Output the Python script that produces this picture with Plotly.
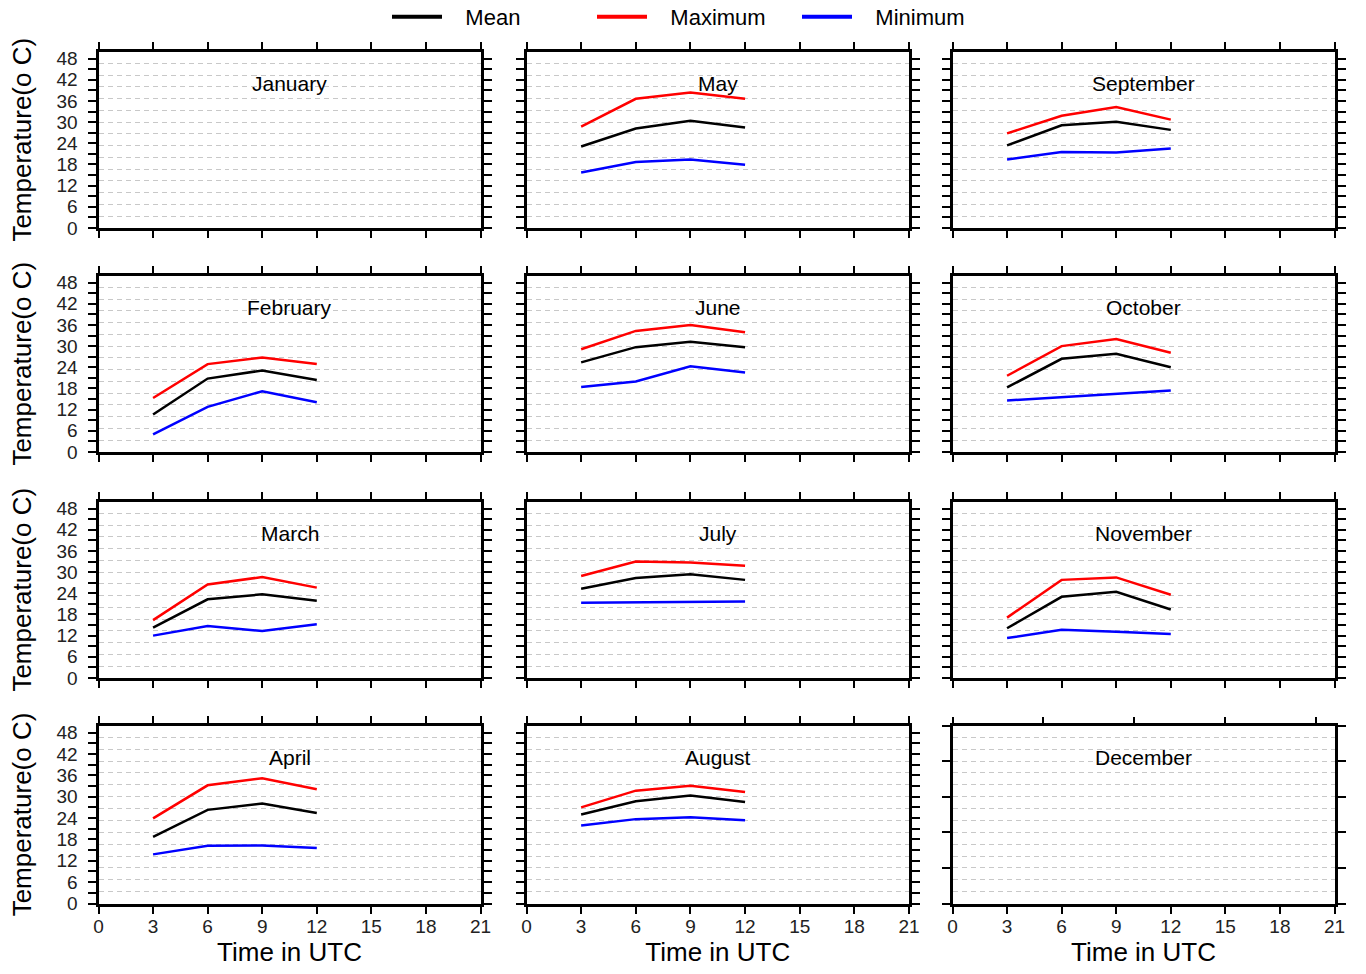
import plotly.graph_objects as go

# ---------------- data ----------------
months = ["January", "February", "March", "April",
          "May", "June", "July", "August",
          "September", "October", "November", "December"]
hours = [3, 6, 9, 12]

mean_temp = [
    None,
    [10.6, 20.8, 23.1, 20.4],
    [14.3, 22.3, 23.7, 21.9],
    [18.7, 26.3, 28.1, 25.4],
    [23.1, 28.2, 30.4, 28.5],
    [25.4, 29.7, 31.2, 29.7],
    [25.3, 28.3, 29.4, 27.8],
    [25.0, 28.7, 30.3, 28.5],
    [23.4, 29.1, 30.1, 27.8],
    [18.3, 26.4, 27.8, 24.0],
    [14.1, 23.0, 24.4, 19.4],
    None,
]
max_temp = [
    None,
    [15.3, 24.9, 26.8, 24.9],
    [16.4, 26.5, 28.6, 25.6],
    [23.9, 33.2, 35.2, 32.1],
    [28.7, 36.6, 38.4, 36.6],
    [29.1, 34.3, 36.0, 33.9],
    [28.9, 33.0, 32.7, 31.8],
    [27.0, 31.7, 33.1, 31.3],
    [26.8, 31.8, 34.3, 30.7],
    [21.6, 30.0, 32.0, 28.1],
    [17.1, 27.8, 28.5, 23.6],
    None,
]
min_temp = [
    None,
    [5.0, 12.8, 17.2, 14.1],
    [12.0, 14.7, 13.3, 15.2],
    [13.8, 16.2, 16.3, 15.6],
    [15.7, 18.7, 19.4, 17.9],
    [18.4, 20.0, 24.3, 22.5],
    [21.3, 21.5, 21.7, 21.7],
    [21.9, 23.7, 24.2, 23.4],
    [19.4, 21.5, 21.4, 22.5],
    [14.6, 15.5, 16.4, 17.4],
    [11.3, 13.7, 13.1, 12.5],
    None,
]

series_names = ["Mean", "Maximum", "Minimum"]
series_colors = ["black", "red", "blue"]
series_data = [mean_temp, max_temp, min_temp]

y_tick_vals = list(range(0, 49, 3))
y_tick_text = [str(v) if v % 6 == 0 else "" for v in y_tick_vals]
x_tick_vals = list(range(0, 22, 3))
x_tick_text = [str(v) for v in x_tick_vals]
grid_vals = [k * 10 / 3 for k in range(1, 15)]
dec_y_ticks = list(range(0, 51, 10))
dec_top_ticks = list(range(0, 21, 5))

# ---------------- layout geometry ----------------
W, H = 1366, 974
col_px = [(98.5, 480.5), (526.5, 909), (952.5, 1334.5)]
row_px = [(51.5, 228), (275.5, 452), (501.5, 678), (725.5, 903.5)]

FONT = "Liberation Sans, Arial, sans-serif"
NBSP = "\u00a0"

fig = go.Figure()
layout = dict(
    width=W, height=H,
    margin=dict(l=0, r=0, t=0, b=0, autoexpand=False),
    paper_bgcolor="white", plot_bgcolor="white",
    font=dict(family=FONT, color="black"),
    showlegend=True,
    legend=dict(orientation="h", xref="paper", yref="paper",
                x=387 / W, xanchor="left", y=1.0 + 4 / H, yanchor="top",
                font=dict(size=22, family=FONT, color="black"),
                itemwidth=50, entrywidth=140, entrywidthmode="pixels",
                bgcolor="rgba(0,0,0,0)"),
    annotations=[],
)

for i, month in enumerate(months):
    col, row = i // 4, i % 4
    n = i + 1
    xa = "x" if n == 1 else f"x{n}"
    ya = "y" if n == 1 else f"y{n}"
    xkey = "xaxis" if n == 1 else f"xaxis{n}"
    ykey = "yaxis" if n == 1 else f"yaxis{n}"
    x0, x1 = col_px[col]
    r0, r1 = row_px[row]
    is_dec = month == "December"

    layout[xkey] = dict(
        domain=[x0 / W, x1 / W], anchor=ya, range=[0, 21], automargin=False,
        showline=True, linewidth=3, linecolor="black",
        mirror=(True if is_dec else "ticks"),
        ticks="outside", ticklen=7, tickwidth=2, tickcolor="black",
        tickmode="array", tickvals=x_tick_vals, ticktext=x_tick_text,
        showticklabels=(row == 3), ticklabelstandoff=-3,
        tickfont=dict(size=19, family=FONT, color="#222"),
        showgrid=False, zeroline=False, fixedrange=True,
    )
    if row == 3:
        layout[xkey]["title"] = dict(text="Time in UTC",
                                     font=dict(size=26, family=FONT, color="black"),
                                     standoff=5)
    layout[ykey] = dict(
        domain=[1 - r1 / H, 1 - r0 / H], anchor=xa, range=[0, 50], automargin=False,
        showline=True, linewidth=3, linecolor="black", mirror="ticks",
        ticks="outside", ticklen=8, tickwidth=2, tickcolor="black",
        tickmode="array",
        tickvals=(dec_y_ticks if is_dec else y_tick_vals),
        ticktext=([""] * len(dec_y_ticks) if is_dec else y_tick_text),
        showticklabels=(col == 0), ticklabelstandoff=6,
        tickfont=dict(size=19, family=FONT, color="#222"),
        showgrid=False, zeroline=False, fixedrange=True,
        minor=dict(tickmode="array", tickvals=grid_vals, showgrid=True,
                   gridcolor="#c8c8c8", gridwidth=1, griddash="5px,4px", ticks=""),
    )
    if col == 0:
        layout[ykey]["title"] = dict(text="Temperature(o C)",
                                     font=dict(size=26, family=FONT, color="black"),
                                     standoff=18)

    layout["annotations"].append(dict(
        text=month, xref=f"{xa} domain", yref=f"{ya} domain",
        x=0.5, y=0.82, xanchor="center", yanchor="middle", showarrow=False,
        font=dict(size=21, family=FONT, color="black"),
    ))

    # empty trace so every panel is drawn
    fig.add_trace(go.Scatter(x=[], y=[], xaxis=xa, yaxis=ya, showlegend=False,
                             hoverinfo="skip"))
    for name, color, data in zip(series_names, series_colors, series_data):
        vals = data[i]
        if vals is None:
            continue
        fig.add_trace(go.Scatter(
            x=hours, y=vals, mode="lines", name=name,
            line=dict(color=color, width=2.5),
            xaxis=xa, yaxis=ya, legendgroup=name, showlegend=False,
        ))

    if is_dec:
        # December's top axis carries its own tick spacing
        layout["xaxis13"] = dict(
            overlaying=xa, side="top", anchor=ya, range=[0, 21], automargin=False,
            showline=False, ticks="outside", ticklen=8, tickwidth=2,
            tickcolor="black", tickmode="array", tickvals=dec_top_ticks,
            showticklabels=False, showgrid=False, zeroline=False, fixedrange=True,
        )
        fig.add_trace(go.Scatter(x=[], y=[], xaxis="x13", yaxis=ya,
                                 showlegend=False, hoverinfo="skip"))

# legend entries (thicker sample lines, as in the reference legend)
for name, color in zip(series_names, series_colors):
    fig.add_trace(go.Scatter(
        x=[None], y=[None], mode="lines", name=NBSP * 3 + name,
        line=dict(color=color, width=4), legendgroup=name, showlegend=True,
        xaxis="x2", yaxis="y2", hoverinfo="skip",
    ))

fig.update_layout(**layout)
fig.write_html("out.html", config={"displayModeBar": False},
               post_script="document.body.style.margin='0';document.body.style.padding='0';")
